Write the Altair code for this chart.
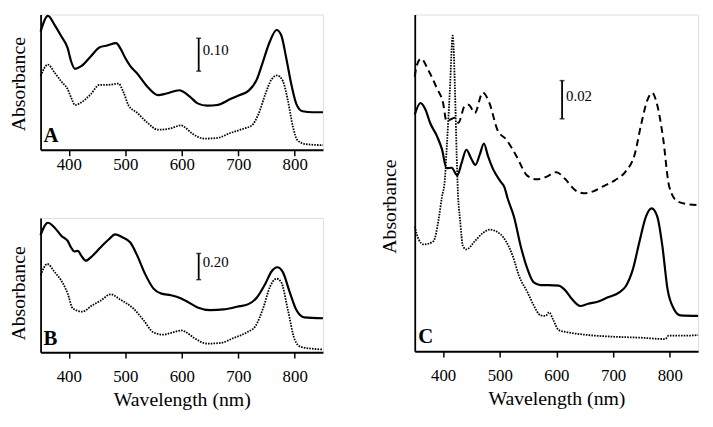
import altair as alt
import pandas as pd

FONT = "Liberation Serif"
X_DOMAIN = [350, 850]
X_TICKS = [400, 500, 600, 700, 800]

# ---------------- Panel A (absorbance) ----------------
A_SOLID_WL = [350, 363, 375, 387, 398, 404, 411, 422, 439, 454, 468, 484, 491, 500, 509, 520, 538, 558, 573, 596, 602, 616, 628, 645, 663, 686, 704, 718, 733, 744, 756, 768, 776, 785, 794, 803, 814, 832, 850]
A_SOLID_ABS = [0.359, 0.407, 0.379, 0.344, 0.309, 0.269, 0.246, 0.254, 0.284, 0.311, 0.317, 0.324, 0.309, 0.279, 0.254, 0.234, 0.194, 0.166, 0.171, 0.181, 0.177, 0.159, 0.141, 0.134, 0.136, 0.154, 0.167, 0.179, 0.214, 0.269, 0.329, 0.364, 0.349, 0.279, 0.199, 0.139, 0.117, 0.114, 0.114]
A_DOT_WL = [350, 363, 375, 387, 398, 404, 411, 422, 439, 454, 468, 488, 497, 506, 520, 538, 558, 578, 599, 605, 619, 640, 663, 686, 709, 724, 736, 748, 759, 769, 779, 788, 797, 805, 820, 850]
A_DOT_ABS = [0.224, 0.259, 0.234, 0.207, 0.184, 0.159, 0.136, 0.144, 0.169, 0.197, 0.197, 0.201, 0.174, 0.134, 0.114, 0.084, 0.061, 0.064, 0.074, 0.069, 0.049, 0.034, 0.036, 0.051, 0.064, 0.074, 0.109, 0.169, 0.214, 0.226, 0.209, 0.149, 0.069, 0.029, 0.017, 0.014]
A_BAR = [630, 0.239, 0.339, 0.304]   # wavelength, low, high, label y
A_BAR_LABEL = "0.10"
A_LETTER = [355, 0.024, "A"]
A_YDOMAIN = [0, 0.411]

# ---------------- Panel B ----------------
B_SOLID_WL = [350, 363, 375, 387, 398, 404, 410, 416, 422, 430, 442, 456, 471, 482, 494, 509, 520, 535, 550, 564, 581, 599, 610, 628, 651, 674, 698, 718, 733, 748, 759, 769, 779, 791, 803, 817, 850]
B_SOLID_ABS = [0.890, 0.983, 0.945, 0.883, 0.845, 0.795, 0.765, 0.770, 0.733, 0.695, 0.733, 0.795, 0.858, 0.895, 0.875, 0.833, 0.745, 0.595, 0.483, 0.445, 0.433, 0.408, 0.383, 0.340, 0.320, 0.325, 0.345, 0.365, 0.415, 0.520, 0.613, 0.645, 0.608, 0.458, 0.320, 0.265, 0.258]
B_DOT_WL = [350, 362, 375, 390, 398, 407, 424, 442, 456, 474, 491, 514, 532, 550, 567, 584, 599, 605, 622, 645, 669, 692, 715, 730, 745, 756, 768, 776, 788, 800, 811, 850]
B_DOT_ABS = [0.583, 0.670, 0.608, 0.520, 0.445, 0.333, 0.308, 0.358, 0.390, 0.440, 0.400, 0.333, 0.245, 0.150, 0.133, 0.150, 0.165, 0.158, 0.108, 0.065, 0.070, 0.108, 0.150, 0.195, 0.345, 0.495, 0.558, 0.533, 0.320, 0.095, 0.040, 0.020]
B_BAR = [630, 0.551, 0.750, 0.683]
B_BAR_LABEL = "0.20"
B_LETTER = [355, 0.058, "B"]
B_YDOMAIN = [0, 1.02]

# ---------------- Panel C ----------------
C_DASH_WL = [350, 353, 361, 374, 389, 400, 406, 421, 427, 438, 445, 456, 470, 482, 496, 512, 530, 548, 565, 581, 600, 615, 633, 648, 665, 680, 703, 722, 738, 750, 761, 769, 778, 788, 799, 813, 830, 850]
C_DASH_ABS = [0.1446, 0.1498, 0.1541, 0.1480, 0.1385, 0.1307, 0.1212, 0.1229, 0.1203, 0.1290, 0.1298, 0.1255, 0.1362, 0.1305, 0.1165, 0.1113, 0.1024, 0.0926, 0.0905, 0.0917, 0.0943, 0.0908, 0.0848, 0.0832, 0.0842, 0.0865, 0.0900, 0.0946, 0.1035, 0.1201, 0.1326, 0.1360, 0.1295, 0.1128, 0.0868, 0.0790, 0.0775, 0.0770]
C_SOLID_WL = [350, 360, 369, 377, 389, 398, 406, 415, 425, 433, 441, 450, 457, 465, 472, 479, 488, 502, 508, 514, 525, 537, 549, 560, 572, 586, 604, 616, 627, 642, 656, 674, 691, 711, 723, 735, 746, 758, 768, 778, 787, 796, 807, 819, 850]
C_SOLID_ABS = [0.1246, 0.1307, 0.1272, 0.1203, 0.1134, 0.1064, 0.0964, 0.0966, 0.0926, 0.0995, 0.1061, 0.1012, 0.0981, 0.1038, 0.1094, 0.1030, 0.0960, 0.0891, 0.0865, 0.0804, 0.0709, 0.0553, 0.0432, 0.0362, 0.0348, 0.0348, 0.0345, 0.0319, 0.0276, 0.0238, 0.0250, 0.0262, 0.0284, 0.0310, 0.0345, 0.0432, 0.0570, 0.0709, 0.0752, 0.0709, 0.0553, 0.0328, 0.0224, 0.0189, 0.0186]
C_DOT_WL = [350, 357, 366, 383, 392, 398, 403, 406, 412, 417, 421, 424, 426, 430, 435, 441, 456, 470, 482, 502, 511, 523, 534, 549, 560, 572, 581, 587, 595, 604, 621, 656, 703, 749, 792, 798, 830, 850]
C_DOT_ABS = [0.0657, 0.0588, 0.0562, 0.0579, 0.0692, 0.0813, 0.0900, 0.1047, 0.1376, 0.1662, 0.1376, 0.1030, 0.0848, 0.0692, 0.0553, 0.0536, 0.0579, 0.0622, 0.0640, 0.0614, 0.0579, 0.0501, 0.0397, 0.0310, 0.0241, 0.0189, 0.0186, 0.0205, 0.0161, 0.0111, 0.0099, 0.0085, 0.0076, 0.0071, 0.0064, 0.0082, 0.0082, 0.0085]
C_BAR = [610, 0.1224, 0.1425, 0.1344]
C_BAR_LABEL = "0.02"
C_LETTER = [356, 0.0042, "C"]
C_YDOMAIN = [0, 0.1773]

SOLID = {"strokeWidth": 2.2}
DOTTED = {"strokeWidth": 1.8, "strokeDash": [1.6, 1.2]}
DASHED = {"strokeWidth": 2, "strokeDash": [7, 4.5]}


def x_axis(with_title, label_pad):
    kw = dict(values=X_TICKS, grid=False, tickSize=6, tickWidth=1.5, tickColor="black",
              domainColor="black", domainWidth=2, labelFont=FONT, labelFontSize=17,
              labelColor="black", labelPadding=label_pad, labelFlush=False)
    if with_title:
        kw.update(title="Wavelength (nm)", titleFont=FONT, titleFontSize=20,
                  titleFontWeight="normal", titleColor="black", titlePadding=5)
    else:
        kw.update(title=None)
    return alt.Axis(**kw)


def y_axis(title_pad, title_y):
    return alt.Axis(title="Absorbance", ticks=False, labels=False, grid=False,
                    domainColor="black", domainWidth=1.8, titleFont=FONT, titleFontSize=20,
                    titleFontWeight="normal", titleColor="black", titlePadding=title_pad,
                    titleY=title_y)


def panel(series, bar, bar_label, letter, ydom, w, h, xax, yax):
    xs = alt.Scale(domain=X_DOMAIN, nice=False, zero=False)
    ys = alt.Scale(domain=ydom, nice=False, zero=False)
    X = alt.X("wl:Q", scale=xs, axis=xax)
    Y = alt.Y("ab:Q", scale=ys, axis=yax)
    layers = []
    for wl, ab, style in series:
        df = pd.DataFrame({"wl": wl, "ab": ab})
        layers.append(alt.Chart(df).mark_line(color="black", interpolate="monotone", **style)
                      .encode(x=X, y=Y))
    bar_df = pd.DataFrame({"wl": [bar[0]], "ab": [bar[1]], "ab2": [bar[2]]})
    layers.append(alt.Chart(bar_df).mark_rule(color="black", strokeWidth=1.8)
                  .encode(x=X, y=Y, y2="ab2:Q"))
    cap_df = pd.DataFrame({"wl": [bar[0], bar[0]], "ab": [bar[1], bar[2]]})
    layers.append(alt.Chart(cap_df).mark_tick(color="black", orient="horizontal", size=5, thickness=1.5)
                  .encode(x=X, y=Y))
    lab_df = pd.DataFrame({"wl": [bar[0]], "ab": [bar[3]], "t": [bar_label]})
    layers.append(alt.Chart(lab_df).mark_text(align="left", baseline="middle", dx=4, font=FONT,
                                              fontSize=15, color="black")
                  .encode(x=X, y=Y, text="t:N"))
    let_df = pd.DataFrame({"wl": [letter[0]], "ab": [letter[1]], "t": [letter[2]]})
    layers.append(alt.Chart(let_df).mark_text(align="left", baseline="alphabetic", font=FONT,
                                              fontSize=21, fontWeight="bold", color="black")
                  .encode(x=X, y=Y, text="t:N"))
    return alt.layer(*layers).properties(width=w, height=h)


pA = panel([(A_SOLID_WL, A_SOLID_ABS, SOLID), (A_DOT_WL, A_DOT_ABS, DOTTED)],
           A_BAR, A_BAR_LABEL, A_LETTER, A_YDOMAIN, 286, 137, x_axis(False, 1), y_axis(12.5, 70))
pB = panel([(B_SOLID_WL, B_SOLID_ABS, SOLID), (B_DOT_WL, B_DOT_ABS, DOTTED)],
           B_BAR, B_BAR_LABEL, B_LETTER, B_YDOMAIN, 286, 136, x_axis(True, 11), y_axis(12.5, 76))
pC = panel([(C_DASH_WL, C_DASH_ABS, DASHED), (C_SOLID_WL, C_SOLID_ABS, SOLID),
            (C_DOT_WL, C_DOT_ABS, DOTTED)],
           C_BAR, C_BAR_LABEL, C_LETTER, C_YDOMAIN, 287, 341, x_axis(True, 11), y_axis(15, 194))

left = alt.vconcat(pA, pB, spacing=44)
chart = alt.hconcat(left, pC, spacing=52).properties(
    padding={"left": 0, "top": 0, "right": 2, "bottom": 2}
).configure_view(stroke=None).configure(background="white")

chart.save("out.html", embed_options={"renderer": "svg", "actions": False})
